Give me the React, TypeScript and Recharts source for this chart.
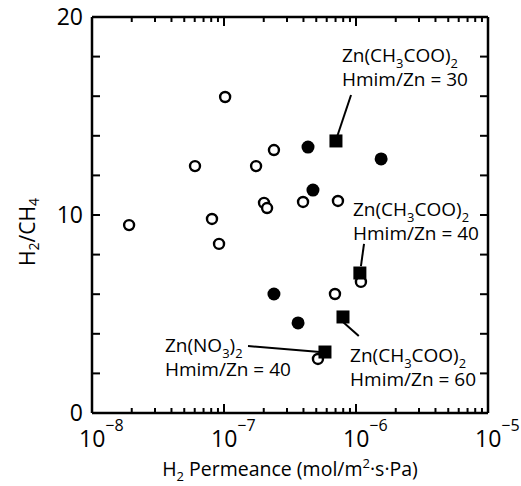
import { ScatterChart, Scatter, XAxis, YAxis, ReferenceLine, ReferenceDot } from 'recharts'

const FONT = '"Open Sans", sans-serif'

// H2 permeance (mol/m2 s Pa) and H2/CH4 selectivity
const openX = [1.91e-8, 6.03e-8, 1.02e-7, 8.11e-8, 9.17e-8, 1.75e-7, 2.39e-7, 2.01e-7, 2.12e-7, 3.97e-7, 7.3e-7, 6.93e-7, 1.09e-6, 5.15e-7]
const openY = [9.49, 12.47, 15.96, 9.8, 8.54, 12.47, 13.28, 10.61, 10.35, 10.66, 10.71, 6.01, 6.62, 2.73]
const filledX = [4.33e-7, 1.55e-6, 4.72e-7, 2.39e-7, 3.64e-7]
const filledY = [13.43, 12.83, 11.26, 6.01, 4.55]
const squareX = [7.05e-7, 1.07e-6, 7.97e-7, 5.82e-7]
const squareY = [13.74, 7.07, 4.85, 3.08]

const xTicks = [
  1e-8, 2e-8, 3e-8, 4e-8, 5e-8, 6e-8, 7e-8, 8e-8, 9e-8,
  1e-7, 2e-7, 3e-7, 4e-7, 5e-7, 6e-7, 7e-7, 8e-7, 9e-7,
  1e-6, 2e-6, 3e-6, 4e-6, 5e-6, 6e-6, 7e-6, 8e-6, 9e-6, 1e-5,
]
const yTicks = [0, 2, 4, 6, 8, 10, 12, 14, 16, 18, 20]

// annotations
const salts = ['Zn(CH3COO)2', 'Zn(CH3COO)2', 'Zn(NO3)2', 'Zn(CH3COO)2']
const ratios = ['Hmim/Zn = 30', 'Hmim/Zn = 40', 'Hmim/Zn = 40', 'Hmim/Zn = 60']
const labelX = [7.83e-7, 9.49e-7, 3.57e-8, 9.02e-7]
const labelY = [18.08, 10.3, 3.43, 2.93]
const leaderFromX = [9.17e-7, 1.15e-6, 1.52e-7, 7.97e-7]
const leaderFromY = [16.06, 8.54, 3.38, 4.6]
const leaderToX = [7.18e-7, 1.09e-6, 5.34e-7, 1.05e-6]
const leaderToY = [13.94, 7.42, 3.08, 3.89]

const zip = (xs: number[], ys: number[]) => xs.map((x, i) => ({ x, y: ys[i] }))
const openData = zip(openX, openY)
const filledData = zip(filledX, filledY)
const squareData = zip(squareX, squareY)

const isMajor = (v: number) => {
  const e = Math.round(Math.log10(v))
  return Math.abs(v / Math.pow(10, e) - 1) < 1e-6
}

const renderFormula = (text: string, size: number) => {
  const parts = text.split(/(\d+)/).filter(Boolean)
  let shifted = false
  const shift = size * 0.3
  return parts.map((p, i) => {
    const sub = /^\d+$/.test(p)
    const dy = sub ? (shifted ? 0 : shift) : shifted ? -shift : 0
    shifted = sub
    return (
      <tspan key={i} dy={dy} fontSize={sub ? size * 0.68 : size}>
        {p}
      </tspan>
    )
  })
}

function BottomTick(props: any) {
  const { x, y, payload } = props
  const v = payload.value
  const major = isMajor(v)
  const e = Math.round(Math.log10(v))
  return (
    <g>
      {v > 1e-8 && v < 1e-5 && (
        <line x1={x} x2={x} y1={y} y2={y - (major ? 9 : 5)} stroke="#000" strokeWidth={2} />
      )}
      {major && (
        <text x={x - 13} y={y + 34} fontSize={23} fontFamily={FONT} fill="#000">
          10
          <tspan dy={-16} fontSize={16}>
            {'\u2212' + Math.abs(e)}
          </tspan>
        </text>
      )}
    </g>
  )
}

function TopTick(props: any) {
  const { x, y, payload } = props
  const v = payload.value
  if (v <= 1e-8 || v >= 1e-5) return <g />
  return <line x1={x} x2={x} y1={y} y2={y + (isMajor(v) ? 9 : 5)} stroke="#000" strokeWidth={2} />
}

function LeftTick(props: any) {
  const { x, y, payload } = props
  const v = payload.value
  return (
    <g>
      {v > 0 && v < 20 && <line x1={x} x2={x + 8} y1={y} y2={y} stroke="#000" strokeWidth={2} />}
      {v % 10 === 0 && (
        <text x={x - 9} y={y + 8} textAnchor="end" fontSize={23} fontFamily={FONT} fill="#000">
          {v}
        </text>
      )}
    </g>
  )
}

function RightTick(props: any) {
  const { x, y, payload } = props
  const v = payload.value
  if (v <= 0 || v >= 20) return <g />
  return <line x1={x} x2={x - 8} y1={y} y2={y} stroke="#000" strokeWidth={2} />
}

function XTitle(props: any) {
  const { viewBox } = props
  return (
    <text
      x={viewBox.x + viewBox.width / 2}
      y={viewBox.y + 63}
      textAnchor="middle"
      fontSize={19.5}
      fontFamily={FONT}
      fill="#000"
    >
      H<tspan dy={5} fontSize={13}>2</tspan>
      <tspan dy={-5}> Permeance (mol/m</tspan>
      <tspan dy={-8} fontSize={13}>2</tspan>
      <tspan dy={8}>·s·Pa)</tspan>
    </text>
  )
}

function YTitle(props: any) {
  const { viewBox } = props
  const cx = 27
  const cy = viewBox.y + viewBox.height / 2 + 17
  return (
    <text
      x={cx}
      y={cy}
      transform={`rotate(-90 ${cx} ${cy})`}
      textAnchor="middle"
      dominantBaseline="central"
      fontSize={21}
      fontFamily={FONT}
      fill="#000"
    >
      H<tspan dy={6} fontSize={14}>2</tspan>
      <tspan dy={-6}>/CH</tspan>
      <tspan dy={6} fontSize={14}>4</tspan>
    </text>
  )
}

function AnnotLabel(props: any) {
  const { viewBox, salt, ratio } = props
  const x = viewBox.x + 1
  const y = viewBox.y + 1
  return (
    <g fontFamily={FONT} fill="#000">
      <text x={x} y={y + 7} fontSize={19}>
        {renderFormula(salt, 19)}
      </text>
      <text x={x} y={y + 31} fontSize={19}>
        {ratio}
      </text>
    </g>
  )
}

const openShape = (p: any) => <circle cx={p.cx} cy={p.cy} r={5} fill="#fff" stroke="#000" strokeWidth={2.4} />
const filledShape = (p: any) => <circle cx={p.cx} cy={p.cy} r={6.5} fill="#000" />
const squareShape = (p: any) => <rect x={p.cx - 6.5} y={p.cy - 6.5} width={13} height={13} fill="#000" />

export default function App() {
  return (
    <div style={{ position: 'absolute', left: 0, top: 0, background: '#fff' }}>
      <ScatterChart width={521} height={486} margin={{ top: 16, right: 32, bottom: 72, left: 91 }}>
        <XAxis
          xAxisId="b"
          type="number"
          dataKey="x"
          scale="log"
          domain={[1e-8, 1e-5]}
          allowDataOverflow
          ticks={xTicks}
          interval={0}
          tick={<BottomTick />}
          tickSize={0}
          tickMargin={0}
          tickLine={false}
          axisLine={{ stroke: '#000', strokeWidth: 2.5 }}
          height={1}
          label={<XTitle />}
        />
        <XAxis
          xAxisId="t"
          orientation="top"
          type="number"
          dataKey="x"
          scale="log"
          domain={[1e-8, 1e-5]}
          allowDataOverflow
          ticks={xTicks}
          interval={0}
          tick={<TopTick />}
          tickSize={0}
          tickMargin={0}
          tickLine={false}
          axisLine={{ stroke: '#000', strokeWidth: 2.5 }}
          height={1}
        />
        <YAxis
          yAxisId="l"
          type="number"
          dataKey="y"
          domain={[0, 20]}
          allowDataOverflow
          ticks={yTicks}
          interval={0}
          tick={<LeftTick />}
          tickSize={0}
          tickMargin={0}
          tickLine={false}
          axisLine={{ stroke: '#000', strokeWidth: 2.5 }}
          width={1}
          label={<YTitle />}
        />
        <YAxis
          yAxisId="r"
          orientation="right"
          type="number"
          dataKey="y"
          domain={[0, 20]}
          allowDataOverflow
          ticks={yTicks}
          interval={0}
          tick={<RightTick />}
          tickSize={0}
          tickMargin={0}
          tickLine={false}
          axisLine={{ stroke: '#000', strokeWidth: 2.5 }}
          width={1}
        />
        {salts.map((s, i) => (
          <ReferenceLine
            key={'lead' + i}
            xAxisId="b"
            yAxisId="l"
            segment={[
              { x: leaderFromX[i], y: leaderFromY[i] },
              { x: leaderToX[i], y: leaderToY[i] },
            ]}
            stroke="#000"
            strokeWidth={2}
          />
        ))}
        <Scatter xAxisId="b" yAxisId="l" data={openData} shape={openShape} isAnimationActive={false} />
        <Scatter xAxisId="b" yAxisId="l" data={filledData} shape={filledShape} isAnimationActive={false} />
        <Scatter xAxisId="b" yAxisId="l" data={squareData} shape={squareShape} isAnimationActive={false} />
        {salts.map((s, i) => (
          <ReferenceDot
            key={'lab' + i}
            xAxisId="b"
            yAxisId="l"
            x={labelX[i]}
            y={labelY[i]}
            r={1}
            fill="none"
            stroke="none"
            label={<AnnotLabel salt={s} ratio={ratios[i]} />}
          />
        ))}
      </ScatterChart>
    </div>
  )
}
